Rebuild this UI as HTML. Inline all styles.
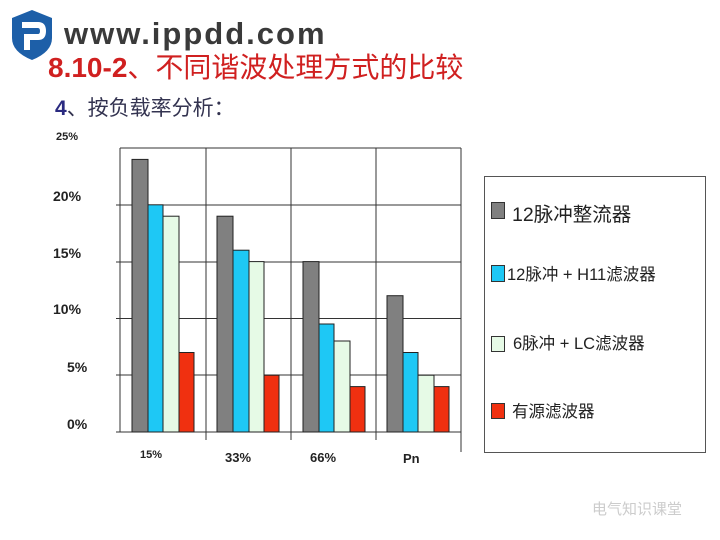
<!DOCTYPE html>
<html><head><meta charset="utf-8"><style>
body{margin:0;width:720px;height:540px;background:#fff;overflow:hidden;position:relative;font-family:"Liberation Sans","Noto Sans CJK SC",sans-serif}
.a{position:absolute;white-space:nowrap}
</style></head><body>
<svg class="a" style="left:0;top:0" width="720" height="540">
<path d="M12 18 L32 10 L52 18 L52 38 Q52 52 32 60 Q12 52 12 38 Z" fill="#1d5fa8"/>
<path d="M22 22 L38 22 Q46 22 46 31 Q46 40 38 40 L30 40 L30 50 L24 50 L24 34 L38 34 Q40 34 40 31 Q40 28 38 28 L22 28 Z" fill="#fff"/>
<g stroke="#333" stroke-width="1" fill="none">
<line x1="120" y1="148" x2="461" y2="148"/>
<line x1="116" y1="205" x2="461" y2="205"/>
<line x1="116" y1="262" x2="461" y2="262"/>
<line x1="116" y1="318.5" x2="461" y2="318.5"/>
<line x1="116" y1="375" x2="461" y2="375"/>
<line x1="116" y1="432" x2="461" y2="432"/>
<line x1="120" y1="148" x2="120" y2="432"/>
<line x1="206" y1="148" x2="206" y2="440"/>
<line x1="291" y1="148" x2="291" y2="440"/>
<line x1="376" y1="148" x2="376" y2="440"/>
<line x1="461" y1="148" x2="461" y2="452"/>
</g>
<g stroke="#222" stroke-width="1">
<rect x="132" y="159.4" width="16" height="272.6" fill="#808080"/>
<rect x="148" y="204.8" width="15" height="227.2" fill="#1ec8f5"/>
<rect x="163" y="216.2" width="16" height="215.8" fill="#e6fae6"/>
<rect x="179" y="352.5" width="15" height="79.5" fill="#f03010"/>
<rect x="217" y="216.2" width="16" height="215.8" fill="#808080"/>
<rect x="233" y="250.2" width="16" height="181.8" fill="#1ec8f5"/>
<rect x="249" y="261.6" width="15" height="170.4" fill="#e6fae6"/>
<rect x="264" y="375.2" width="15" height="56.8" fill="#f03010"/>
<rect x="303" y="261.6" width="16" height="170.4" fill="#808080"/>
<rect x="319" y="324" width="15" height="108" fill="#1ec8f5"/>
<rect x="334" y="341" width="16" height="91" fill="#e6fae6"/>
<rect x="350" y="386.6" width="15" height="45.4" fill="#f03010"/>
<rect x="387" y="295.7" width="16" height="136.3" fill="#808080"/>
<rect x="403" y="352.5" width="15" height="79.5" fill="#1ec8f5"/>
<rect x="418" y="375.2" width="16" height="56.8" fill="#e6fae6"/>
<rect x="434" y="386.6" width="15" height="45.4" fill="#f03010"/>
</g>
<rect x="484.5" y="176.5" width="221" height="276" fill="none" stroke="#555"/>
<g stroke="#333">
<rect x="491.5" y="202.5" width="13" height="16" fill="#808080"/>
<rect x="491.5" y="265.5" width="13" height="16" fill="#1ec8f5"/>
<rect x="491.5" y="336.5" width="13" height="15" fill="#e6fae6"/>
<rect x="491.5" y="403.5" width="13" height="15" fill="#f03010"/>
</g>
</svg>
<div class="a" style="left:64px;top:16px;font-size:31px;font-weight:bold;color:#3a3a3a;letter-spacing:2px">www.ippdd.com</div>
<div class="a" style="left:48px;top:46px;font-size:28px;color:#d02020;font-weight:bold">8.10-2<span style="font-weight:normal">、不同谐波处理方式的比较</span></div>
<div class="a" style="left:55px;top:92px;font-size:21px;color:#333350"><b style="color:#2a2a80">4</b>、按负载率分析：</div>
<div style="font-size:11px;font-weight:bold;color:#222">
<div class="a" style="left:56px;top:131px">25%</div>
<div class="a" style="left:53px;top:188px;font-size:14px">20%</div>
<div class="a" style="left:53px;top:245px;font-size:14px">15%</div>
<div class="a" style="left:53px;top:301px;font-size:14px">10%</div>
<div class="a" style="left:67px;top:359px;font-size:14px">5%</div>
<div class="a" style="left:67px;top:416px;font-size:14px">0%</div>
<div class="a" style="left:140px;top:449px">15%</div>
<div class="a" style="left:225px;top:450px;font-size:13px">33%</div>
<div class="a" style="left:310px;top:450px;font-size:13px">66%</div>
<div class="a" style="left:403px;top:451px;font-size:13px">Pn</div>
</div>
<div style="color:#222">
<div class="a" style="left:512px;top:198px;font-size:19.5px">12脉冲整流器</div>
<div class="a" style="left:507px;top:261px;font-size:16.5px">12脉冲 + H11滤波器</div>
<div class="a" style="left:513px;top:330px;font-size:16.5px">6脉冲 + LC滤波器</div>
<div class="a" style="left:512px;top:398px;font-size:16.5px">有源滤波器</div>
</div>
<div class="a" style="left:592px;top:498px;font-size:15px;color:#ccc">电气知识课堂</div>
</body></html>
